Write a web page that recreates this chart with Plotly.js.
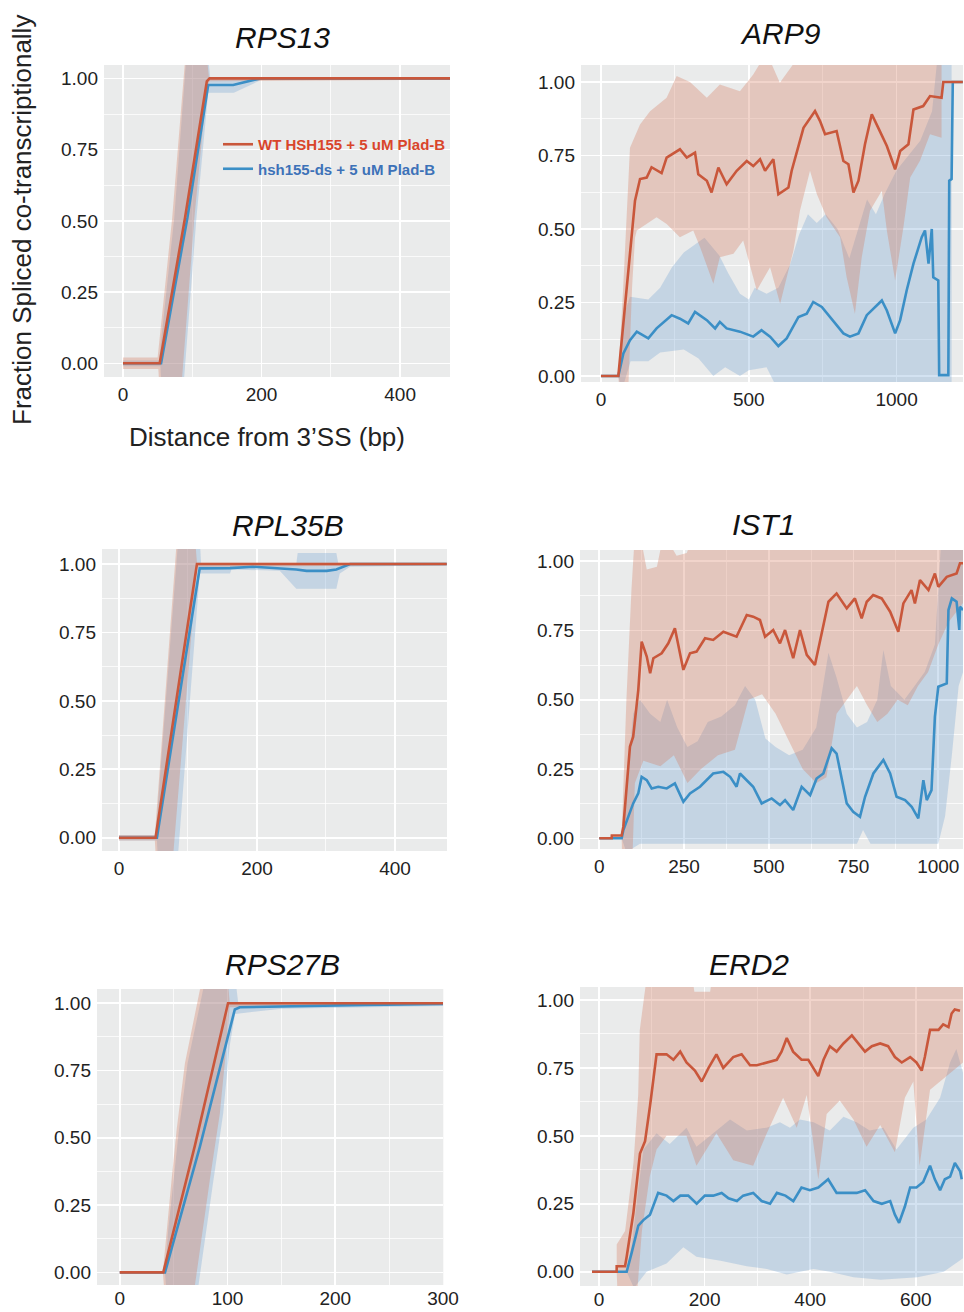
<!DOCTYPE html>
<html><head><meta charset="utf-8">
<script src="https://cdn.plot.ly/plotly-3.0.1.min.js"></script>
<style>html,body{margin:0;padding:0;background:#fff}#chart{width:964px;height:1312px}</style>
</head><body><div id="chart"></div>
<script>
// ---------- data: [distance (bp), fraction spliced] ----------
const SERIES_NAMES = ['WT HSH155 + 5 uM Plad-B', 'hsh155-ds + 5 uM Plad-B'];
const GENES = ['RPS13', 'ARP9', 'RPL35B', 'IST1', 'RPS27B', 'ERD2'];
const Y_TICKS = [0, 0.25, 0.5, 0.75, 1.0];

// RPS13
const RPS13_WT = [[0,0],[53,0],[89.5,0.51],[121,0.99],[125,1.0],[472,1.0]];
const RPS13_DS = [[0,0],[55,0],[92.9,0.51],[123,0.977],[159,0.977],[179,0.99],[198,1.0],[472,1.0]];
const RPS13_WT_HI = [[0,0.02],[50,0.02],[71,0.51],[89.5,1.06],[95,1.1],[120,1.1],[124,1.005],[472,1.005]];
const RPS13_WT_LO = [[0,-0.02],[51,-0.02],[53,-0.1],[85,-0.06],[103,0.51],[121,0.97],[125,0.99],[472,0.995]];
const RPS13_DS_HI = [[0,0.01],[52,0.01],[74,0.51],[91,1.06],[96,1.1],[122,1.1],[126,1.0],[472,1.0]];
const RPS13_DS_LO = [[0,-0.01],[54,-0.01],[56,-0.1],[88,-0.06],[106,0.51],[123,0.95],[160,0.95],[200,0.995],[472,0.995]];

// ARP9
const ARP9_WT = [[0,0],[58.6,0],[115,0.596],[132,0.67],[154.6,0.675],[171,0.71],[205,0.69],[222,0.743],[267,0.771],[290,0.743],[318,0.76],[329,0.686],[358,0.664],[374,0.624],[397,0.709],[425,0.652],[459,0.698],[493,0.731],[515,0.714],[538,0.737],[555,0.698],[583,0.737],[600,0.618],[634,0.641],[645,0.698],[685,0.844],[724,0.901],[741,0.867],[758,0.822],[797,0.833],[820,0.731],[837,0.72],[854,0.624],[871,0.664],[893,0.788],[916,0.89],[938,0.844],[967,0.782],[995,0.703],[1012,0.765],[1040,0.788],[1057,0.906],[1090,0.918],[1113,0.952],[1152,0.946],[1158,1.0],[1224,1.0]];
const ARP9_DS = [[0,0],[58.6,0],[75.6,0.077],[98,0.122],[121,0.151],[160,0.128],[188,0.162],[239,0.207],[267,0.195],[295,0.179],[318,0.218],[358,0.19],[386,0.162],[402,0.184],[425,0.162],[470,0.151],[515,0.134],[543,0.156],[572,0.134],[600,0.102],[628,0.128],[668,0.201],[696,0.212],[718,0.252],[747,0.235],[775,0.201],[820,0.145],[842,0.134],[871,0.145],[899,0.207],[950,0.257],[967,0.223],[995,0.145],[1012,0.19],[1034,0.291],[1057,0.382],[1085,0.472],[1096,0.495],[1108,0.382],[1119,0.5],[1124,0.336],[1141,0.325],[1144,0.003],[1175,0.003],[1178,0.664],[1186,0.67],[1190,1.0],[1224,1.0]];
const ARP9_WT_HI = [[58.6,0],[75,0.3],[98,0.776],[132,0.855],[166,0.9],[222,0.946],[256,1.02],[301,1.0],[358,0.946],[402,0.991],[470,0.968],[515,1.025],[560,1.1],[605,0.997],[650,1.06],[680,1.1],[1152,1.1]];
const ARP9_WT_LO = [[58.6,0],[62,-0.05],[92,-0.05],[105,0.3],[115,0.47],[121,0.495],[188,0.54],[222,0.517],[267,0.472],[312,0.495],[335,0.439],[380,0.314],[402,0.404],[448,0.416],[481,0.461],[527,0.291],[572,0.37],[606,0.246],[651,0.427],[673,0.562],[707,0.698],[730,0.619],[763,0.54],[809,0.472],[831,0.336],[859,0.212],[882,0.404],[910,0.562],[950,0.63],[967,0.495],[995,0.325],[1023,0.506],[1046,0.675],[1079,0.732],[1113,0.822],[1152,0.81]];
const ARP9_DS_HI = [[58.6,0],[75,0.2],[98,0.27],[160,0.26],[200,0.3],[240,0.37],[280,0.42],[320,0.45],[350,0.47],[400,0.41],[430,0.35],[470,0.28],[500,0.26],[520,0.3],[560,0.28],[600,0.3],[640,0.38],[670,0.48],[700,0.55],[730,0.52],[760,0.55],[800,0.5],[840,0.4],[870,0.5],[900,0.6],[930,0.55],[960,0.62],[1000,0.7],[1040,0.75],[1080,0.8],[1120,0.9],[1140,1.1],[1186,1.1]];
const ARP9_DS_LO = [[58.6,0],[70,-0.05],[100,0.05],[160,0.05],[200,0.08],[280,0.09],[330,0.06],[380,0.0],[420,0.03],[470,0.0],[500,0.02],[560,0.03],[600,-0.05],[1186,-0.05]];

// RPL35B
const RPL35B_WT = [[0,0],[53,0],[113,1.0],[475,1.0]];
const RPL35B_DS = [[0,0],[55,0],[117,0.984],[161,0.985],[194,0.99],[233,0.985],[257,0.98],[272,0.975],[301,0.975],[315,0.98],[335,1.0],[475,1.0]];
const RPL35B_WT_HI = [[0,0.01],[52,0.01],[83,1.06],[88,1.1],[110,1.1],[113,1.005],[475,1.005]];
const RPL35B_WT_LO = [[0,-0.01],[52,-0.01],[54,-0.1],[79,-0.05],[113,0.99],[475,0.995]];
const RPL35B_DS_HI = [[0,0.01],[53,0.01],[85,1.06],[90,1.1],[117,1.1],[119,1.0],[257,1.0],[259,1.04],[315,1.04],[318,1.0],[475,1.0]];
const RPL35B_DS_LO = [[0,-0.01],[55,-0.01],[57,-0.1],[86,-0.05],[117,0.965],[161,0.965],[163,0.98],[233,0.975],[257,0.91],[315,0.91],[320,0.965],[335,0.99],[475,0.995]];

// IST1
const IST1_WT = [[0,0],[36.5,0],[37,0.01],[66,0.01],[71,0.042],[90.5,0.331],[100,0.367],[115,0.535],[125,0.71],[140,0.656],[150,0.596],[159.5,0.65],[184,0.668],[203.6,0.704],[223,0.758],[248,0.608],[267.6,0.668],[287,0.674],[312,0.722],[336,0.716],[366,0.746],[405,0.728],[435,0.806],[454,0.8],[474,0.788],[489,0.728],[513,0.752],[533,0.704],[548,0.752],[572,0.65],[592,0.752],[612,0.662],[636,0.626],[651,0.716],[676,0.854],[700,0.884],[730,0.83],[754,0.866],[774,0.794],[789,0.854],[808,0.878],[833,0.866],[858,0.818],[882,0.746],[897,0.848],[921,0.896],[931,0.848],[946,0.932],[971,0.896],[990,0.956],[1000,0.908],[1025,0.944],[1054,0.956],[1064,0.993],[1073,0.993]];
const IST1_DS = [[0,0],[66,0],[71,0.03],[100,0.126],[115,0.162],[125,0.222],[140,0.21],[154.5,0.18],[174,0.186],[199,0.18],[223,0.198],[248,0.132],[267.6,0.162],[297,0.186],[336,0.234],[366,0.24],[386,0.222],[405,0.186],[415,0.234],[454,0.186],[479,0.126],[508.5,0.144],[533,0.12],[548,0.138],[572,0.102],[597,0.186],[622,0.156],[641,0.216],[661,0.234],[685.5,0.325],[700,0.306],[730,0.126],[749,0.096],[769,0.078],[784,0.15],[808.5,0.234],[838,0.283],[858,0.234],[877,0.15],[902,0.138],[921.5,0.114],[941,0.072],[956,0.21],[966,0.138],[980,0.174],[990,0.439],[1000,0.547],[1025,0.559],[1030,0.824],[1040,0.866],[1054,0.854],[1062,0.752],[1064,0.836],[1073,0.824]];
const IST1_WT_HI = [[66,0.01],[80,0.5],[95,0.9],[105,1.1],[120,1.1],[140,0.97],[170,0.98],[190,1.1],[228,1.02],[258,1.03],[280,1.1],[1073,1.1]];
const IST1_WT_LO = [[66,0],[68,-0.1],[97,-0.1],[105,0.2],[130,0.28],[180,0.26],[220,0.3],[260,0.2],[300,0.25],[350,0.3],[400,0.32],[440,0.5],[480,0.52],[520,0.45],[560,0.35],[600,0.25],[640,0.2],[670,0.22],[700,0.45],[730,0.5],[760,0.55],[790,0.48],[820,0.42],[850,0.45],[880,0.5],[910,0.48],[940,0.55],[970,0.6],[1000,0.7],[1030,0.78],[1073,0.85]];
const IST1_DS_HI = [[66,0],[85,0.25],[100,0.45],[120,0.5],[150,0.45],[180,0.42],[200,0.5],[230,0.4],[260,0.33],[290,0.35],[320,0.42],[360,0.44],[400,0.48],[430,0.55],[460,0.5],[490,0.36],[520,0.33],[560,0.3],[600,0.32],[640,0.4],[676,0.67],[700,0.58],[730,0.45],[760,0.4],[790,0.42],[820,0.5],[838,0.68],[860,0.55],[900,0.5],[930,0.55],[960,0.6],[990,0.7],[1010,1.1],[1073,1.1]];
const IST1_DS_LO = [[66,0],[80,-0.05],[120,-0.02],[500,-0.02],[760,-0.02],[778,0.03],[800,-0.02],[1000,-0.02],[1020,0.08],[1040,0.3],[1060,0.55],[1073,0.6]];

// RPS27B
const RPS27B_WT = [[0,0],[40.4,0],[69.7,0.47],[100.5,1.0],[300,1.0]];
const RPS27B_DS = [[0,0],[42,0],[74.4,0.467],[106.8,0.977],[111.4,0.985],[166.9,0.99],[228.5,0.994],[300,0.997]];
const RPS27B_WT_HI = [[40,0],[43.5,0.157],[48.1,0.343],[52.8,0.53],[60.5,0.777],[74.4,1.05],[80,1.1],[100,1.1],[102,1.005],[300,1.005]];
const RPS27B_WT_LO = [[40,0],[42,-0.1],[69.7,-0.05],[83.6,0.343],[92.9,0.59],[99,0.84],[102,0.985],[300,0.995]];
const RPS27B_DS_HI = [[42,0],[45,0.157],[50,0.343],[55,0.53],[63,0.777],[77,1.05],[80,1.1],[107,1.1],[110,1.0],[300,1.0]];
const RPS27B_DS_LO = [[42,0],[44,-0.1],[73,-0.05],[87,0.343],[96,0.59],[102,0.84],[107,0.96],[150,0.98],[300,0.99]];

// ERD2
const ERD2_WT = [[-13.3,0],[33.4,0],[33.5,0.02],[49.3,0.02],[52.4,0.055],[65,0.215],[77.6,0.435],[87.2,0.48],[96.6,0.61],[109,0.8],[127.9,0.8],[140.9,0.78],[153.8,0.81],[165.7,0.77],[181.6,0.74],[194.5,0.7],[207.5,0.75],[222.4,0.8],[235.3,0.75],[254.2,0.79],[270.1,0.8],[286,0.76],[299,0.76],[317.8,0.77],[336.7,0.78],[345.7,0.81],[355.6,0.86],[367.6,0.81],[383.5,0.78],[396.4,0.78],[406.3,0.75],[415.3,0.72],[425.2,0.78],[437.2,0.83],[450.1,0.81],[463,0.84],[478.9,0.87],[490.9,0.84],[503.8,0.81],[516.7,0.83],[532.6,0.84],[547.5,0.83],[560.4,0.79],[573.4,0.77],[589.3,0.79],[601.2,0.77],[611.2,0.74],[617.1,0.79],[627,0.89],[643,0.89],[651.9,0.91],[661.9,0.9],[667.8,0.95],[673.8,0.965],[683.7,0.96]];
const ERD2_DS = [[-13.3,0],[52.4,0],[61.9,0.07],[74.5,0.17],[84,0.19],[96.6,0.21],[112,0.29],[128,0.28],[141,0.26],[154,0.28],[169,0.28],[185,0.25],[200.5,0.28],[216.4,0.28],[232.3,0.29],[245.3,0.27],[261.2,0.26],[273,0.28],[292,0.29],[308,0.26],[324,0.25],[337,0.29],[353,0.28],[368,0.26],[383.5,0.31],[399.4,0.3],[415.3,0.31],[434,0.34],[450,0.29],[469,0.29],[488,0.29],[504,0.3],[520,0.26],[535.6,0.25],[551.5,0.26],[560.4,0.21],[568.4,0.18],[579.3,0.24],[589.3,0.31],[601.2,0.31],[614,0.33],[627,0.39],[636,0.34],[646,0.3],[655,0.34],[665,0.35],[674,0.4],[684,0.37],[687,0.34]];
const ERD2_WT_HI = [[33.5,0.1],[49.4,0.15],[65.3,0.4],[74.2,0.65],[77.2,0.89],[90.1,1.08],[96.1,1.1],[175.7,1.1],[180.6,1.03],[210.5,1.03],[215.4,1.1],[689.7,1.1]];
const ERD2_WT_LO = [[33.5,0],[35.5,-0.1],[71.3,-0.1],[81.2,0.15],[96.1,0.35],[109,0.45],[128,0.5],[165.7,0.5],[184.6,0.39],[222.4,0.51],[254.2,0.41],[292,0.39],[317.8,0.51],[348.7,0.64],[374.5,0.53],[393.4,0.65],[415.3,0.34],[431.2,0.58],[456,0.63],[481.9,0.56],[506.8,0.46],[532.6,0.54],[560.4,0.44],[579.3,0.64],[595.3,0.7],[607.2,0.39],[627,0.67],[657.9,0.72],[689.7,0.77]];
const ERD2_DS_HI = [[52.4,0],[62.3,0.1],[74.2,0.3],[84.2,0.45],[109,0.51],[133.9,0.47],[165.7,0.53],[184.6,0.46],[216.4,0.51],[248.2,0.56],[280,0.52],[317.8,0.53],[342.7,0.55],[361.6,0.53],[380.5,0.56],[406.3,0.55],[437.2,0.52],[463,0.57],[487.9,0.55],[512.7,0.52],[538.6,0.53],[563.4,0.45],[595.3,0.53],[620.1,0.56],[646,0.64],[664.9,0.77],[676.8,0.82],[689.7,0.73]];
const ERD2_DS_LO = [[52.4,0],[66.3,-0.06],[90.1,0],[128,0.03],[159.7,0.09],[184.6,0.055],[230.3,0.04],[280,0.02],[317.8,0.01],[355.6,-0.01],[406.3,0.01],[437.2,0],[481.9,-0.02],[533.6,-0.03],[603.2,-0.02],[653,0],[689.7,0.05]];

// ---------- layout configuration ----------
const W = 964, H = 1312;
const RED = '#C9573B', BLUE = '#3B8FC6';
const RED_FILL = 'rgba(212,122,92,0.32)', BLUE_FILL = 'rgba(110,160,210,0.30)';
const FONT = 'Liberation Sans, Arial, Helvetica, sans-serif';

const panels = [
  {wt:RPS13_WT, ds:RPS13_DS, wtHi:RPS13_WT_HI, wtLo:RPS13_WT_LO, dsHi:RPS13_DS_HI, dsLo:RPS13_DS_LO,
   px:[104,450], py:[65,377], xr:[-27.4,472], yr:[-0.048,1.047], dtick:200, minor:100, t:[282,37], so:4},
  {wt:ARP9_WT, ds:ARP9_DS, wtHi:ARP9_WT_HI, wtLo:ARP9_WT_LO, dsHi:ARP9_DS_HI, dsLo:ARP9_DS_LO,
   px:[581,963], py:[65,382], xr:[-67.7,1224.6], yr:[-0.0203,1.0576], dtick:500, minor:250, t:[780,34], so:4},
  {wt:RPL35B_WT, ds:RPL35B_DS, wtHi:RPL35B_WT_HI, wtLo:RPL35B_WT_LO, dsHi:RPL35B_DS_HI, dsLo:RPL35B_DS_LO,
   px:[102,447], py:[549,851], xr:[-24.6,475.4], yr:[-0.0486,1.0548], dtick:200, minor:100, t:[288,525], so:4},
  {wt:IST1_WT, ds:IST1_DS, wtHi:IST1_WT_HI, wtLo:IST1_WT_LO, dsHi:IST1_DS_HI, dsLo:IST1_DS_LO,
   px:[580,963], py:[550,849], xr:[-56.9,1072.9], yr:[-0.0386,1.0408], dtick:250, minor:125, t:[763,524], so:4},
  {wt:RPS27B_WT, ds:RPS27B_DS, wtHi:RPS27B_WT_HI, wtLo:RPS27B_WT_LO, dsHi:RPS27B_DS_HI, dsLo:RPS27B_DS_LO,
   px:[97,443.3], py:[989,1285], xr:[-21.1,300.3], yr:[-0.047,1.053], dtick:100, minor:50, t:[282,964], so:0},
  {wt:ERD2_WT, ds:ERD2_DS, wtHi:ERD2_WT_HI, wtLo:ERD2_WT_LO, dsHi:ERD2_DS_HI, dsLo:ERD2_DS_LO,
   px:[580,963], py:[987,1286], xr:[-36,689.4], yr:[-0.0526,1.0478], dtick:200, minor:100, t:[749,964], so:0}
];

const xs = a => a.map(p => p[0]);
const ys = a => a.map(p => p[1]);
function band(hi, lo) {
  return { x: xs(hi).concat(xs(lo).reverse()), y: ys(hi).concat(ys(lo).reverse()) };
}

const traces = [];
const layout = {
  width: W, height: H, autosize: false,
  margin: {l:0, r:0, t:0, b:0},
  paper_bgcolor: '#ffffff', plot_bgcolor: '#EAEBEB',
  font: {family: FONT, color: '#222'},
  showlegend: true,
  legend: {x: 218/W, y: 1 - 128/H, xanchor: 'left', yanchor: 'top', bgcolor: 'rgba(0,0,0,0)',
           borderwidth: 0, traceorder: 'grouped', tracegroupgap: 2,
           font: {family: FONT, size: 15, weight: 'bold'}, itemwidth: 30},
  annotations: []
};

panels.forEach((p, i) => {
  const s = i === 0 ? '' : String(i + 1);
  const xa = 'x' + s, ya = 'y' + s;
  const rb = band(p.wtHi, p.wtLo), bb = band(p.dsHi, p.dsLo);
  traces.push({x: bb.x, y: bb.y, xaxis: xa, yaxis: ya, mode: 'lines', fill: 'toself',
               fillcolor: BLUE_FILL, line: {width: 0, color: 'rgba(0,0,0,0)'}, hoverinfo: 'skip', showlegend: false});
  traces.push({x: rb.x, y: rb.y, xaxis: xa, yaxis: ya, mode: 'lines', fill: 'toself',
               fillcolor: RED_FILL, line: {width: 0, color: 'rgba(0,0,0,0)'}, hoverinfo: 'skip', showlegend: false});
  traces.push({x: xs(p.ds), y: ys(p.ds), xaxis: xa, yaxis: ya, mode: 'lines',
               line: {color: BLUE, width: 2.6}, name: '<span style="color:#3D72B8">' + SERIES_NAMES[1] + '</span>',
               showlegend: i === 0, legendgroup: 'ds', legendrank: 2});
  traces.push({x: xs(p.wt), y: ys(p.wt), xaxis: xa, yaxis: ya, mode: 'lines',
               line: {color: RED, width: 2.6}, name: '<span style="color:#D9452B">' + SERIES_NAMES[0] + '</span>',
               showlegend: i === 0, legendgroup: 'wt', legendrank: 1});

  layout['xaxis' + s] = {
    domain: [p.px[0] / W, p.px[1] / W], range: p.xr, anchor: ya,
    tickmode: 'linear', tick0: 0, dtick: p.dtick,
    showgrid: true, gridcolor: '#ffffff', gridwidth: 1.6, zeroline: false, showline: false,
    ticks: '', ticklabelstandoff: p.so, tickfont: {size: 19, color: '#222'},
    minor: {tick0: 0, dtick: p.minor, showgrid: true, gridcolor: 'rgba(255,255,255,0.75)', gridwidth: 1},
    fixedrange: true
  };
  layout['yaxis' + s] = {
    domain: [1 - p.py[1] / H, 1 - p.py[0] / H], range: p.yr, anchor: xa,
    tickmode: 'array', tickvals: Y_TICKS, tickformat: '.2f',
    showgrid: true, gridcolor: '#ffffff', gridwidth: 1.6, zeroline: false, showline: false,
    ticks: '', ticklabelstandoff: 5, tickfont: {size: 19, color: '#222'},
    minor: {tick0: 0, dtick: 0.125, showgrid: true, gridcolor: 'rgba(255,255,255,0.75)', gridwidth: 1},
    fixedrange: true
  };
  layout.annotations.push({text: GENES[i], xref: 'paper', yref: 'paper', x: p.t[0] / W, y: 1 - p.t[1] / H,
    xanchor: 'center', yanchor: 'middle', showarrow: false,
    font: {family: FONT, size: 30, style: 'italic', color: '#111'}});
});

layout.annotations.push({text: 'Fraction Spliced co-transcriptionally', xref: 'paper', yref: 'paper',
  x: 22 / W, y: 1 - 220 / H, xanchor: 'center', yanchor: 'middle', textangle: -90, showarrow: false,
  font: {family: FONT, size: 26, color: '#222'}});
layout.annotations.push({text: 'Distance from 3’SS (bp)', xref: 'paper', yref: 'paper',
  x: 267 / W, y: 1 - 437 / H, xanchor: 'center', yanchor: 'middle', showarrow: false,
  font: {family: FONT, size: 26, color: '#222'}});

Plotly.newPlot('chart', traces, layout, {displayModeBar: false, staticPlot: true});
</script>
</body></html>
